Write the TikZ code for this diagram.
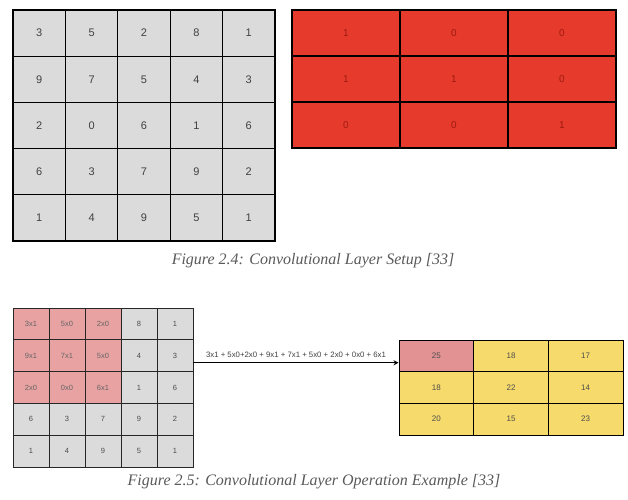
\documentclass[tikz,border=0pt]{standalone}
\usepackage{fontspec}
\usetikzlibrary{arrows.meta}
\setmainfont{Liberation Serif}
\newfontfamily\digitfont{Liberation Sans}
\begin{document}
\begin{tikzpicture}[x=1pt,y=-1pt,
  cellA/.style={draw=black,line width=1.1pt,fill=gridgray,minimum width=52.4pt,minimum height=46.2pt,inner sep=0pt,font=\digitfont\fontsize{11}{12}\selectfont,text=black!75},
  cellK/.style={draw=black,line width=1.1pt,fill=kernred,minimum width=108pt,minimum height=46pt,inner sep=0pt,font=\digitfont\fontsize{10}{12}\selectfont,text=kerntext},
  cellB/.style={draw=black!85,line width=0.9pt,fill=gridgray,minimum width=36pt,minimum height=31.8pt,inner sep=0pt,font=\digitfont\fontsize{7.5}{9}\selectfont,text=black!70},
  cellP/.style={cellB,fill=pinkcell,text=black!60},
  cellO/.style={draw=black,line width=0.9pt,fill=yellowcell,minimum width=74.67pt,minimum height=31.67pt,inner sep=0pt,font=\digitfont\fontsize{8}{9}\selectfont,text=black!70},
  caption/.style={font=\itshape\fontsize{16}{18}\selectfont,text=black!65},
  ]
\definecolor{gridgray}{HTML}{DBDBDB}
\definecolor{kernred}{HTML}{E63B2C}
\definecolor{kerntext}{HTML}{9E1A10}
\definecolor{pinkcell}{HTML}{E8A2A2}
\definecolor{pinkout}{HTML}{E29292}
\definecolor{yellowcell}{HTML}{F6DA6C}
\useasboundingbox (0,0) rectangle (628,499);
% top input grid
\foreach \row [count=\r] in {{3,5,2,8,1},{9,7,5,4,3},{2,0,6,1,6},{6,3,7,9,2},{1,4,9,5,1}}{
  \foreach \v [count=\c] in \row {
    \node[cellA] (a-\r-\c) at ({13+52.4*(\c-0.5)},{10+46.2*(\r-0.5)}) {\v};
  }
}
% kernel
\foreach \row [count=\r] in {{1,0,0},{1,1,0},{0,0,1}}{
  \foreach \v [count=\c] in \row {
    \node[cellK] (k-\r-\c) at ({292+108*(\c-0.5)},{10+46*(\r-0.5)}) {\v};
  }
}
\node[caption] (cap1) at (313,261) {Figure 2.4: Convolutional Layer Setup [33]};
% bottom grid
\foreach \row [count=\r] in {{3x1,5x0,2x0,8,1},{9x1,7x1,5x0,4,3},{2x0,0x0,6x1,1,6},{6,3,7,9,2},{1,4,9,5,1}}{
  \foreach \v [count=\c] in \row {
    \pgfmathtruncatemacro{\pk}{(\r<4)&&(\c<4)}
    \ifnum\pk=1
      \node[cellP] (b-\r-\c) at ({13+36*(\c-0.5)},{308+31.8*(\r-0.5)}) {\v};
    \else
      \node[cellB] (b-\r-\c) at ({13+36*(\c-0.5)},{308+31.8*(\r-0.5)}) {\v};
    \fi
  }
}
% output grid
\foreach \row [count=\r] in {{25,18,17},{18,22,14},{20,15,23}}{
  \foreach \v [count=\c] in \row {
    \node[cellO] (o-\r-\c) at ({399+74.67*(\c-0.5)},{340+31.67*(\r-0.5)}) {\v};
  }
}
\node[cellO,fill=pinkout] at (o-1-1) {25};
% arrow
\coordinate (as) at ([yshift=-7pt]b-2-5.east);
\coordinate (ae) at (o-1-1.west |- as);
\draw[line width=1pt,-{Stealth[length=5pt,width=5pt]}] (as) -- node[above=1.5pt,font=\digitfont\fontsize{7.8}{9}\selectfont,text=black!75] (eq) {3x1 + 5x0+2x0 + 9x1 + 7x1 + 5x0 + 2x0 + 0x0 + 6x1} (ae);
\node[caption] (cap2) at (314,482) {Figure 2.5: Convolutional Layer Operation Example [33]};
\end{tikzpicture}
\end{document}
